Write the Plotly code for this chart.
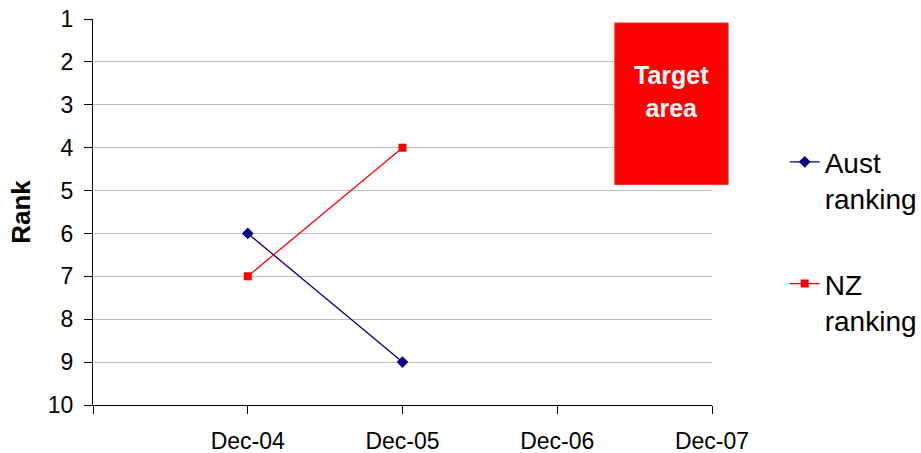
import plotly.graph_objects as go

categories = ["", "Dec-04", "Dec-05", "Dec-06", "Dec-07"]
x_pos = [0, 1, 2, 3, 4]
aust_rank = [None, 6, 9, None, None]
nz_rank = [None, 7, 4, None, None]
rank_ticks = [1, 2, 3, 4, 5, 6, 7, 8, 9, 10]

FONT = "Arial, Liberation Sans, sans-serif"

fig = go.Figure()
fig.add_trace(go.Scatter(
    x=x_pos, y=aust_rank, name="Aust<br>ranking", mode="lines+markers",
    line=dict(color="#000080", width=1.3),
    marker=dict(symbol="diamond", size=9, color="#000080"),
    legendgroup="a",
))
fig.add_trace(go.Scatter(
    x=x_pos, y=nz_rank, name="NZ<br>ranking", mode="lines+markers",
    line=dict(color="#FF0000", width=1.3),
    marker=dict(symbol="square", size=8, color="#FF0000"),
    legendgroup="b",
))

# Target area box
fig.add_shape(type="rect", xref="paper", yref="paper",
              x0=0.843, x1=1.026, y0=0.571, y1=0.9897,
              fillcolor="#FF0000", line=dict(color="#F03030", width=1), layer="above")
fig.add_annotation(xref="paper", yref="paper", x=0.9345, y=0.812,
                   xanchor="center", yanchor="middle",
                   text="<b>Target<br>area</b>", showarrow=False,
                   font=dict(family=FONT, size=25, color="white"),
                   align="center")

fig.update_layout(
    width=921, height=453,
    margin=dict(l=93, r=209, t=19, b=48, autoexpand=False),
    paper_bgcolor="white", plot_bgcolor="white",
    font=dict(family=FONT, size=22, color="black"),
    showlegend=True,
    legend=dict(xref="container", x=0.852, y=0.694, xanchor="left", yanchor="top",
                font=dict(family=FONT, size=28, color="black"),
                tracegroupgap=46, valign="top", bgcolor="rgba(0,0,0,0)"),
    xaxis=dict(range=[0, 4], tickmode="array", tickvals=x_pos, ticktext=categories,
               showgrid=False, zeroline=False, showline=True, linecolor="black",
               linewidth=1, ticks="outside", ticklen=8, tickcolor="black",
               ticklabelstandoff=7, automargin=False,
               tickfont=dict(family=FONT, size=23, color="black")),
    yaxis=dict(range=[10, 1], tickmode="array", tickvals=rank_ticks,
               showgrid=True, gridcolor="#C0C0C0", gridwidth=1, zeroline=False,
               showline=True, linecolor="black", linewidth=1,
               ticks="outside", ticklen=8, tickcolor="black",
               ticklabelstandoff=6, automargin=False,
               tickfont=dict(family=FONT, size=23, color="black"),
               title=dict(text="<b>Rank</b>", font=dict(family=FONT, size=26, color="black"),
                          standoff=9)),
)

fig.write_html("out.html")
